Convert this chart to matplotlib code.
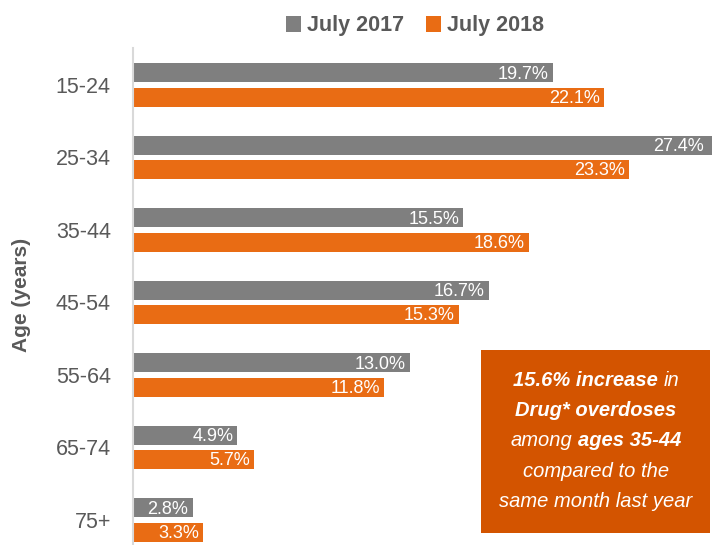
import matplotlib
matplotlib.use("Agg")
import matplotlib.pyplot as plt
import numpy as np
from matplotlib.offsetbox import TextArea, HPacker, VPacker, AnchoredOffsetbox
from matplotlib.patches import Rectangle

age_groups = ['15-24', '25-34', '35-44', '45-54', '55-64', '65-74', '75+']
july_2017 = [19.7, 27.4, 15.5, 16.7, 13.0, 4.9, 2.8]
july_2018 = [22.1, 23.3, 18.6, 15.3, 11.8, 5.7, 3.3]
series_names = ['July 2017', 'July 2018']

gray = '#7F7F7F'
orange = '#E96C14'
box_color = '#D35400'
text_gray = '#595959'

plt.rcParams['font.family'] = ['Liberation Sans Narrow', 'Liberation Sans', 'DejaVu Sans']

fig = plt.figure(figsize=(7.12, 5.45), dpi=100)
ax = fig.add_axes([133 / 712, 0, 1 - 133 / 712, 1 - 48 / 545])

y = np.arange(len(age_groups))
h = 0.26
off = 0.167
b1 = ax.barh(y - off, july_2017, height=h, color=gray, label=series_names[0])
b2 = ax.barh(y + off, july_2018, height=h, color=orange, label=series_names[1])

# value labels inside the bar ends (the longest bar runs off the right edge)
for bars, vals in ((b1, july_2017), (b2, july_2018)):
    for bar, v in zip(bars, vals):
        xv = min(v, 27.0)
        ax.annotate(f'{v:.1f}%', (xv, bar.get_y() + bar.get_height() / 2),
                    xytext=(-3, -1), textcoords='offset points',
                    ha='right', va='center', color='white', fontsize=13,
                    annotation_clip=False)

ax.set_xlim(0, 27.18)
ax.set_ylim(6.345, -0.51)
ax.set_yticks(y)
ax.set_yticklabels(age_groups, fontsize=15.5, color=text_gray)
ax.tick_params(axis='y', length=0, pad=16)
ax.set_xticks([])
for s in ['top', 'right', 'bottom']:
    ax.spines[s].set_visible(False)
ax.spines['left'].set_color('#D9D9D9')
ax.spines['left'].set_linewidth(1.5)

fig.text(22 / 712, 1 - 295 / 545, 'Age (years)', rotation=90, ha='center', va='center',
         fontsize=15, fontweight='bold', color=text_gray)

fig.legend(handles=[b1, b2], loc='center', bbox_to_anchor=(415 / 712, 1 - 26 / 545),
           ncol=2, frameon=False, handlelength=0.7, handleheight=0.7, handletextpad=0.3,
           columnspacing=1.0, prop={'size': 15.5, 'weight': 'bold'}, labelcolor=text_gray)

# callout box
fig.patches.append(Rectangle((481 / 712, 1 - 533 / 545), 229 / 712, 183 / 545,
                             transform=fig.transFigure, facecolor=box_color,
                             edgecolor='none', zorder=5))

lines = [
    [('15.6% increase', 'bold'), ('in', 'normal')],
    [('Drug* overdoses', 'bold')],
    [('among', 'normal'), ('ages 35-44', 'bold')],
    [('compared to the', 'normal')],
    [('same month last year', 'normal')],
]
rows = []
for line in lines:
    parts = [TextArea(t, textprops=dict(color='white', fontsize=14.5, style='italic', weight=w))
             for t, w in line]
    rows.append(HPacker(children=parts, align='baseline', pad=0, sep=4))
pack = VPacker(children=rows, align='center', pad=0, sep=8)
anch = AnchoredOffsetbox(loc='center', child=pack, frameon=False,
                         bbox_to_anchor=(596 / 712, 1 - 441 / 545),
                         bbox_transform=fig.transFigure, pad=0, borderpad=0)
anch.set_zorder(6)
fig.add_artist(anch)

fig.savefig('out.png', dpi=100)
